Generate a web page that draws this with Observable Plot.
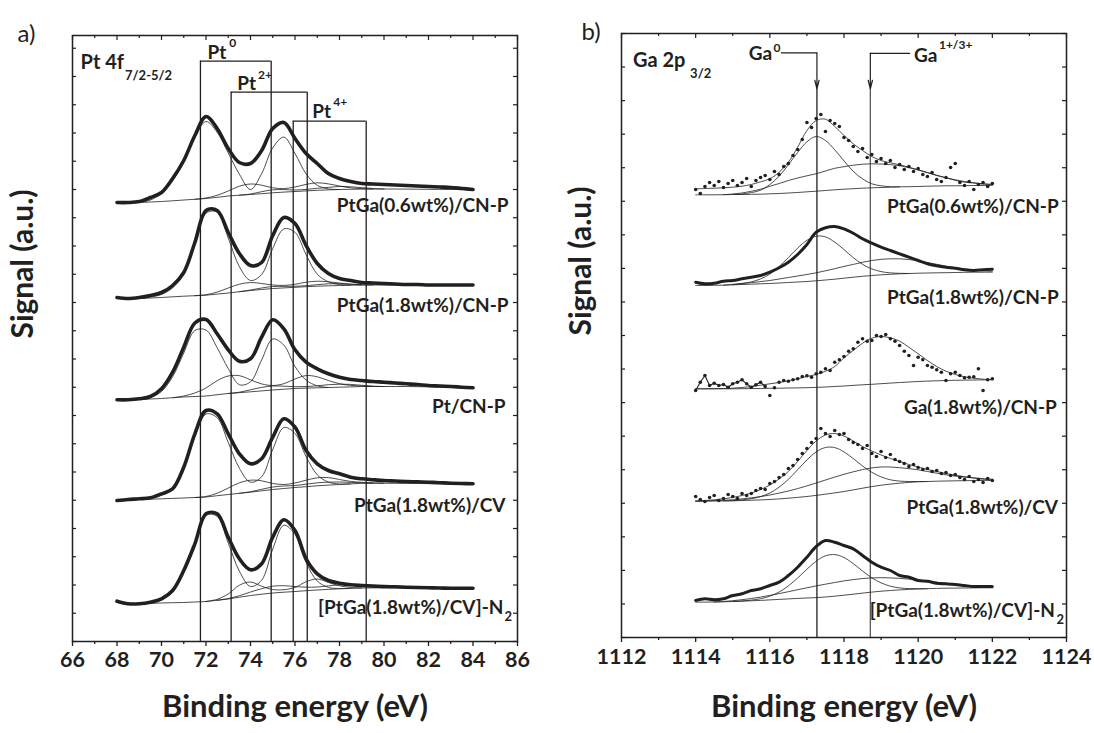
<!DOCTYPE html>
<html><head><meta charset="utf-8">
<script src="https://cdn.jsdelivr.net/npm/d3@7"></script>
<script src="https://cdn.jsdelivr.net/npm/@observablehq/plot@0.6"></script>
<style>
body{margin:0;background:#fff;}
#wrap{position:relative;width:1094px;height:733px;overflow:hidden;background:#fff;}
#pa,#pb{position:absolute;top:0;}
#pa{left:0;} #pb{left:547px;}
svg{overflow:visible;}
</style></head><body><div id="wrap"><div id="pa"></div><div id="pb"></div></div>
<script>
const _ = null;
// ---------------- Panel a : Pt 4f ----------------
const eVa = [68,68.5,69,69.5,70,70.5,71,71.5,72,72.5,73,73.5,74,74.5,75,75.5,76,76.5,77,77.5,78,78.5,79,79.5,80,80.5,81,81.5,82,82.5,83,83.5,84];
const namesA = ["PtGa(0.6wt%)/CN-P","PtGa(1.8wt%)/CN-P","Pt/CN-P","PtGa(1.8wt%)/CV","[PtGa(1.8wt%)/CV]-N"];
const sigA1 = [439,439,440,444,449,463,481,506,525,513,493,479,478,491,513,519,503,488,478,468,463,460,458,457.5,457,456.5,456,455.5,455,454.5,454,453,452];
const sigA2 = [344,343,344,346,349,356,369,399,431,431,409,388,376,379,406,424,418,396,378,368,363,361,359,358.5,358,357.5,357,357,356.5,356.5,356.5,356.5,356.5];
const sigA3 = [241.7,241.7,242.7,245,252.7,269.3,294.3,318.5,322,307.7,291.7,280.3,282.7,304.3,321.7,312.7,291.7,279.3,272.7,267.7,264.3,262,261,260,259.3,258.5,257.7,257,256,255.5,255,254.3,253.7];
const sigA4 = [141,142,142.7,143.7,147.7,152.7,174.3,207.7,231,227.7,207.7,187.7,177.7,182.7,204.3,222.7,214.3,191,177.7,171,167.7,164.3,162.7,161.8,161,160.5,160,159.7,159.3,158.8,158.3,158,157.7];
const sigA5 = [40.3,37.7,37.7,39.3,42.7,51,71,97.7,127.7,127.7,104.3,82.7,71.7,77.7,104.3,121.7,111,82.7,67.7,61,58.3,56.7,56,55.5,55,54.7,54.3,54,53.7,53.5,53.3,53.3,53.3];
const bgA1 = [439,439,439,439.5,440,440.7,441.5,442.2,443,444.2,445.5,446.3,447,447.8,448.7,449.4,450,450.6,451.2,451.6,452,452.2,452.4,452.5,452.5,452.5,452.4,452.3,452.2,452.1,452,452,452];
const bgA2 = [344,343,343,343.5,344,344.7,345.3,345.8,346.3,347.4,348.5,349.8,351,352,353,353.6,354.2,354.8,355.3,355.7,356,356.3,356.5,356.5,356.5,356.5,356.5,356.5,356.5,356.5,356.5,356.5,356.5];
const bgA3 = [241.7,241.8,242,242.5,243,243.8,244.5,245,245.5,246.8,248,248.8,249.7,250.6,251.5,252.3,253,253.4,253.7,254,254.3,254.6,255,255,255,255,255,254.8,254.7,254.5,254.3,254,253.7];
const bgA4 = [141,141.5,142,142.3,142.7,143.1,143.5,144,144.5,145.8,147,148.2,149.3,150.7,152,153,154,154.8,155.7,156.4,157,157.6,158.2,158.3,158.3,158.2,158.1,158,157.9,157.8,157.8,157.7,157.7];
const bgA5 = [40.3,38.5,37.8,38.1,38.5,38.8,39,39.5,40,41.2,42.5,44.3,46,47.3,48.5,49.3,50,50.8,51.5,52.1,52.7,53.1,53.5,53.6,53.7,53.7,53.6,53.5,53.4,53.3,53.3,53.3,53.3];
// fitted components (height above background)
const pt0A1 = [_,_,0,2,8,20,38,62,77,65,43,21,5,20,45,55,38,17,5,1,0,_,_,_,_,_,_,_,_,_,_,_,_];
const pt2A1 = [_,_,_,_,_,_,_,0,0.5,2,5,9,10.5,8.5,5,3.5,4.5,6.5,7.5,6,3.5,1.5,0.5,0,_,_,_,_,_,_,_,_,_];
const pt4A1 = [_,_,_,_,_,_,_,_,_,_,_,0,0.5,2,3,2.5,1.5,1.5,2,2.5,3,2.5,1.5,0.5,0,_,_,_,_,_,_,_,_];
const pt0A2 = [_,_,0,1,3,9,22,51,82,82,55,25,10,15,40,59,55,32,12,4,1,0,_,_,_,_,_,_,_,_,_,_,_];
const pt2A2 = [_,_,_,_,_,_,_,0,0.5,2,5,7.5,8,6,3.5,2.5,3,4.5,5,4,2.5,1,0,_,_,_,_,_,_,_,_,_,_];
const pt4A2 = [_,_,_,_,_,_,_,_,_,_,_,0,0.5,1.5,2,1.5,1,1,1.5,2,1.8,1,0.3,0,_,_,_,_,_,_,_,_,_];
const pt0A3 = [_,_,0,1.5,7,21,44,66,66,47,25,8,10,31,51,44,22,8,2,0,_,_,_,_,_,_,_,_,_,_,_,_,_];
const pt2A3 = [_,_,_,_,_,0,1,3.5,8,14,17.5,17,12,7,4.5,5.5,9.5,12.5,11,7,3.5,1.5,0.5,0,_,_,_,_,_,_,_,_,_];
const pt4A3 = [_,_,_,_,_,_,_,_,_,_,0,0.5,2,3.5,4,3,1.8,1.5,2,2.8,3,2.5,1.2,0.4,0,_,_,_,_,_,_,_,_];
const pt0A4 = [_,_,0,1,3.5,9,29,61,83,78,52,25,10,14,40,61,54,30,11,3,0.5,0,_,_,_,_,_,_,_,_,_,_,_];
const pt2A4 = [_,_,_,_,_,_,_,0,0.5,2.5,6.5,10.5,12,10,6,4,4.5,6.5,8,7.5,5,2.5,1,0.3,0,_,_,_,_,_,_,_,_];
const pt4A4 = [_,_,_,_,_,_,_,_,_,_,_,0,0.5,1.5,2.5,2.5,2,2.5,3,3,2.5,1.5,0.5,0,_,_,_,_,_,_,_,_,_];
const pt0A5 = [_,_,0,1,3,11,30,56,86,84,56,26,9,14,44,67,57,28,9,2,0.3,0,_,_,_,_,_,_,_,_,_,_,_];
const pt2A5 = [_,_,_,_,_,_,_,_,0,1,5,12,13.5,8,3.5,2.5,4,9,11,7,3,1,0,_,_,_,_,_,_,_,_,_,_];
const pt4A5 = [_,_,_,_,_,_,_,_,_,0,0.5,1.5,3.5,5.5,6.8,6.5,5,3.5,3,3.5,4,3.5,2,0.8,0,_,_,_,_,_,_,_,_];
// Pt0 / Pt2+ / Pt4+ doublet guides (eV)
const bracketLo = [71.75, 73.13, 75.92];
const bracketHi = [74.93, 76.55, 79.2];
const bracketTop = [580.3, 549.3, 520.3];
const majorsA = [66,68,70,72,74,76,78,80,82,84,86];
const minorsA = [67,69,71,73,75,77,79,81,83,85];

// ---------------- Panel b : Ga 2p3/2 ----------------
const eVb = [1114,1114.25,1114.5,1114.75,1115,1115.25,1115.5,1115.75,1116,1116.25,1116.5,1116.75,1117,1117.25,1117.5,1117.75,1118,1118.25,1118.5,1118.75,1119,1119.25,1119.5,1119.75,1120,1120.25,1120.5,1120.75,1121,1121.25,1121.5,1121.75,1122];
const eVbDots = [1114,1114.125,1114.25,1114.375,1114.5,1114.625,1114.75,1114.875,1115,1115.125,1115.25,1115.375,1115.5,1115.625,1115.75,1115.875,1116,1116.125,1116.25,1116.375,1116.5,1116.625,1116.75,1116.875,1117,1117.125,1117.25,1117.375,1117.5,1117.625,1117.75,1117.875,1118,1118.125,1118.25,1118.375,1118.5,1118.625,1118.75,1118.875,1119,1119.125,1119.25,1119.375,1119.5,1119.625,1119.75,1119.875,1120,1120.125,1120.25,1120.375,1120.5,1120.625,1120.75,1120.875,1121,1121.125,1121.25,1121.375,1121.5,1121.625,1121.75,1121.875,1122];
const namesB = ["PtGa(0.6wt%)/CN-P","PtGa(1.8wt%)/CN-P","Ga(1.8wt%)/CN-P","PtGa(1.8wt%)/CV","[PtGa(1.8wt%)/CV]-N"];
const dotsB1 = [448,444,451,455,452,456,450,454,457,452,455,459,451,457,460,462,458,466,463,471,474,482,488,498,515,510,519,523,506,517,514,511,500,497,491,486,489,480,483,476,479,474,477,470,473,468,471,466,469,463,461,465,458,456,460,470,474,455,452,456,448,453,455,451,454];
const envB1 = [448.7,449,449.3,449.7,450.3,451.3,453,455.7,458.7,465.3,475.3,490.3,507,517,518.3,511,502,493.7,487,481,477,474.7,472.7,470.3,467.7,465,462.3,459.7,457.7,456,454.7,453.7,453];
const bgB1 = [442.7,442.7,442.7,442.8,443,443,443.2,443.3,443.7,444,444.5,445,445.7,446.3,447,447.7,448.3,448.8,449.3,449.7,450,450.3,450.7,450.8,451,451.3,451.5,451.7,451.7,451.8,452,452,452];
const ga0B1 = [_,_,_,_,0,0.5,1.7,4,9.3,17.3,28.3,40,50,54.7,50,40,28.3,17.3,9.3,4,1.7,0.5,0,_,_,_,_,_,_,_,_,_,_];
const ga1B1 = [_,_,_,0,0.5,1.5,3,5,7.5,10,12.5,14.5,16,17.5,19.5,21.5,22.5,23.5,24,24,23.5,22.5,21,19,16.5,13.5,10.5,8,5.5,3.5,2.5,1.5,1];
const sigB2 = [355.3,353.7,354.3,356.3,357,358.7,360.3,362,365.3,369.7,375.3,383,393,405.3,409.7,411,408.7,404.3,398.7,394.3,390.3,387,383.7,380.3,377,373.7,371.7,370.3,369.3,367.7,367,367.7,368.3];
const bgB2 = [352,352,352.2,352.3,352.7,353,353.3,353.7,354,354.5,355,355.5,356,356.7,357.5,358.3,359.3,360.3,361.2,362,362.7,363.2,363.7,364,364.3,364.5,364.7,364.8,365,365.2,365.3,365.3,365.3];
const ga0B2 = [_,_,_,_,0,1,2.3,4.9,9.4,16.4,24.9,33.9,41.2,44.6,43.1,37.1,28.6,19.6,12,6.6,3.2,1.4,0.5,0,_,_,_,_,_,_,_,_,_];
const ga1B2 = [_,_,_,0,0.5,1,1.5,2.2,3,4,5,6,7,8,9.2,10.5,11.8,12.8,14,15,15.5,15.5,15,14,12.5,10.5,8.5,6.5,4.8,3.3,2.2,1.4,0.9];
const dotsB3 = [247,255.3,262,252,254.3,252,253,250.3,253.7,255.3,257.7,253.7,250.3,252.7,255.3,251,242,249.7,255.3,257,256.3,257.7,258.7,261,261.7,260.3,263.7,265.3,268.7,267,275.3,277.7,281,286.3,288.7,295.3,298.7,296.3,297,302,301,303,298.7,296.3,292,286.3,282,272,280.3,277.7,272,270.3,267.7,265.3,257,263.7,265.3,262,259.7,260.3,260.7,268.7,247,257.7,258.7];
const envB3 = [248.7,248.7,248.8,249,249.3,250,251,252.3,253.7,255,256.7,258.7,261,263,266.3,271,279.7,287,294.3,299.3,301,299.7,296.3,290.3,283.7,277,271,266.3,263,260.7,259.3,258.3,258];
const bgB3 = [248.7,248.7,248.7,248.7,248.7,248.8,248.9,249,249.2,249.3,249.5,249.6,249.8,250.1,250.5,251,251.5,252.1,252.7,253.2,253.8,254.4,255,255.5,256,256.4,256.7,257,257.2,257.4,257.5,257.6,257.7];
const dotsB4 = [141,138,136,140,142,137,139,143,141,139,144,142,144,147,149,148,154,156,160,163,169,172,178,184,189,195,199,209,204,201,207,203,204,198,195,193,189,192,184,181,186,180,183,178,176,174,171,173,170,168,169,166,167,164,165,162,163,160,158,161,156,158,155,159,157];
const envB4 = [136.5,137,137.7,138.7,140,142,144.5,148,152.5,158.5,166,176,187,196.5,202.5,204,201.5,196.5,191,186.5,182.5,179,176,173,170.5,168,166,164,162.3,160.8,159.5,158.3,157.5];
const bgB4 = [136.3,136.4,136.5,136.6,136.7,137,137.3,137.6,138,138.6,139.3,140.1,141,142.1,143.3,144.6,146,147.6,149.3,150.9,152.3,153.4,154.3,155.1,155.7,156,156.3,156.5,156.7,156.8,156.9,157,157];
const ga0B4 = [_,_,_,0,0.2,0.6,1.5,3.3,6.5,11.7,18.9,27.7,36.5,43.5,46.7,45.3,39.6,31.3,22.3,14.3,8.3,4.3,2.1,0.9,0.3,0,_,_,_,_,_,_,_];
const ga1B4 = [0,0.2,0.4,0.7,1,1.6,2.4,3.3,4.5,5.8,7.2,8.8,10.6,12.4,14.2,15.8,17.2,18.1,18.6,18.7,18.2,17.1,15.5,13.8,12,10,8,6.2,4.7,3.6,2.7,1.9,1.3];
const sigB5 = [37,38.7,37.7,38.7,42,43.7,47,48.7,52,55.3,62,70.3,80.3,91,97,95.3,92,88.7,82,75.3,70.3,67,62,60.3,57,56.3,54.3,53.7,53,52,51,51,51];
const bgB5 = [35.3,35.4,35.5,35.7,36,36.3,36.7,37.1,37.6,38.1,38.6,39.1,39.5,39.9,40.5,41.3,42.3,43.3,44.4,45.4,46.3,47,47.6,48.1,48.5,48.8,49.1,49.3,49.4,49.5,49.6,49.7,49.7];
const ga0B5 = [_,_,_,_,0,0.25,0.7,1.7,3.7,7.4,13,20.4,28.8,36.4,41.2,41.6,37.7,30.5,22.1,14.3,8.3,4.3,2,0.8,0.3,0,_,_,_,_,_,_,_];
const ga1B5 = [_,_,0,0.3,0.8,1.5,2.3,3.3,4.5,5.8,7.2,8.7,10.2,11.7,12.8,13.7,14.3,14.6,14.6,14.2,13.5,12.6,11.5,10.3,9,7.6,6.2,4.8,3.5,2.3,1.3,0.6,0.2];
const gaLines = [1117.27, 1118.71];
const majorsB = [1112,1114,1116,1118,1120,1122,1124];
const minorsB = [1113,1115,1117,1119,1121,1123];

// ---------------- helpers ----------------
const ink = "#231f20";
const rows = (xs, ys) => xs.map((x, i) => ({x, y: ys[i]})).filter(d => d.y != null);
const comp = (xs, bg, h) => xs.map((x, i) => h[i] == null ? null : {x, y: bg[i] + h[i]}).filter(d => d);
const thin = (data) => Plot.line(data, {x: "x", y: "y", stroke: ink, strokeWidth: 0.8, curve: "catmull-rom"});
const txt = (t, x, y, o = {}) => Plot.text([t], {x, y, text: d => d, fill: ink, fontWeight: "bold", fontSize: 19, ...o});
const FONT = "Lato, 'Open Sans', 'DejaVu Sans', sans-serif";

function frameMarks(W, Hh, majors, minors, yt, labelDy) {
  return [
    Plot.frame({stroke: ink, strokeWidth: 1.5}),
    Plot.tickY(yt, {y: d => d, insetRight: W - 4, stroke: ink, strokeWidth: 1.2}),
    Plot.tickY(yt, {y: d => d, insetLeft: W - 4, stroke: ink, strokeWidth: 1.2}),
    Plot.tickX(majors, {x: d => d, insetBottom: Hh - 5, stroke: ink, strokeWidth: 1.2}),
    Plot.tickX(minors, {x: d => d, insetBottom: Hh - 3, stroke: ink, strokeWidth: 1.2}),
    Plot.tickX(minors, {x: d => d, insetTop: Hh, insetBottom: -3, stroke: ink, strokeWidth: 1.3}),
    Plot.tickX(majors, {x: d => d, insetTop: Hh, insetBottom: -5, stroke: ink, strokeWidth: 1.3}),
    Plot.text(majors, {x: d => d, frameAnchor: "bottom", dy: labelDy, text: d => String(d),
      fontSize: 21.5, fontWeight: "bold", fill: ink})
  ];
}

// ---------------- Panel a plot ----------------
const WA = 445, HA = 606;
const sigsA = [sigA1, sigA2, sigA3, sigA4, sigA5];
const bgsA = [bgA1, bgA2, bgA3, bgA4, bgA5];
const compsA = [[pt0A1, pt2A1, pt4A1], [pt0A2, pt2A2, pt4A2], [pt0A3, pt2A3, pt4A3], [pt0A4, pt2A4, pt4A4], [pt0A5, pt2A5, pt4A5]];
const guideA = bracketLo.concat(bracketHi).map((x, i) => ({x, top: bracketTop[i % 3]}));
const bracketsA = bracketLo.map((a, i) => ({a, b: bracketHi[i], top: bracketTop[i]}));

const marksA = [
  Plot.ruleX(guideA, {x: "x", y1: 0, y2: "top", stroke: ink, strokeWidth: 1.3}),
  Plot.ruleY(bracketsA, {y: "top", x1: "a", x2: "b", stroke: ink, strokeWidth: 1.3})
];
sigsA.forEach((s, k) => {
  marksA.push(thin(rows(eVa, bgsA[k])));
  compsA[k].forEach(h => marksA.push(thin(comp(eVa, bgsA[k], h))));
  marksA.push(Plot.line(rows(eVa, s), {x: "x", y: "y", stroke: ink, strokeWidth: 3.6, curve: "catmull-rom"}));
});
const labA = [[85.6, 435.1], [85.6, 335.1], [85.46, 234.1], [85.46, 135.1], [85.37, 33.1]];
namesA.forEach((n, k) => marksA.push(txt(n, labA[k][0], labA[k][1], {textAnchor: "end"})));
marksA.push(
  txt("2", 85.42, 24.2, {textAnchor: "start", fontSize: 13}),
  txt("Pt 4f", 66.36, 579.4, {textAnchor: "start", fontSize: 20}),
  txt("7/2-5/2", 68.36, 565.2, {textAnchor: "start", fontSize: 13}),
  txt("Pt", 72.07, 588.8, {textAnchor: "start"}),
  txt("0", 73.04, 598, {textAnchor: "start", fontSize: 12}),
  txt("Pt", 73.40, 557.1, {textAnchor: "start"}),
  txt("2+", 74.34, 566, {textAnchor: "start", fontSize: 12}),
  txt("Pt", 76.77, 529.8, {textAnchor: "start"}),
  txt("4+", 77.72, 539.3, {textAnchor: "start", fontSize: 12}),
  ...frameMarks(WA, HA, majorsA, minorsA, d3.range(0, 606, 28.25), 25),
  Plot.text(["a)"], {frameAnchor: "top-left", dx: -55, dy: -11, text: d => d, textAnchor: "start", fontSize: 24, fontWeight: "normal", fill: ink}),
  Plot.text(["Signal (a.u.)"], {frameAnchor: "left", dx: -49, rotate: -90, text: d => d, fontSize: 30, fontWeight: "bold", fill: ink}),
  Plot.text(["Binding energy (eV)"], {frameAnchor: "bottom", dy: 75, text: d => d, fontSize: 31, fontWeight: "bold", fill: ink})
);

const plotA = Plot.plot({
  width: 540, height: 733, marginLeft: 72, marginRight: 23, marginTop: 35, marginBottom: 92,
  x: {domain: [66, 86], axis: null}, y: {domain: [0, 606], axis: null},
  style: {fontFamily: FONT, fontWeight: "bold", color: ink, background: "transparent", overflow: "visible"},
  marks: marksA
});
document.getElementById("pa").append(plotA);

// ---------------- Panel b plot ----------------
const WB = 445, HB = 604;
const marksB = [
  Plot.ruleX(gaLines, {x: d => d, y1: 0, y2: 548.7, stroke: (d, i) => i ? "#5a5a5a" : ink, strokeWidth: 1.3}),
  Plot.line([{x: 1116.31, y: 584.7}, {x: 1117.27, y: 584.7}], {x: "x", y: "y", stroke: ink, strokeWidth: 1.2}),
  Plot.line([{x: 1119.77, y: 584.2}, {x: 1118.71, y: 584.2}], {x: "x", y: "y", stroke: ink, strokeWidth: 1.2}),
  Plot.arrow(gaLines, {x1: d => d, x2: d => d, y1: 584.5, y2: 548.7, stroke: ink, strokeWidth: 1.2, headLength: 11, headAngle: 28})
];
// spectrum 1
marksB.push(thin(rows(eVb, bgB1)), thin(comp(eVb, bgB1, ga0B1)), thin(comp(eVb, bgB1, ga1B1)), thin(rows(eVb, envB1)),
  Plot.dot(rows(eVbDots, dotsB1), {x: "x", y: "y", r: 1.8, fill: ink, stroke: null}));
// spectrum 2
marksB.push(thin(rows(eVb, bgB2)), thin(comp(eVb, bgB2, ga0B2)), thin(comp(eVb, bgB2, ga1B2)),
  Plot.line(rows(eVb, sigB2), {x: "x", y: "y", stroke: ink, strokeWidth: 3, curve: "catmull-rom"}));
// spectrum 3
marksB.push(thin(rows(eVb, bgB3)), thin(rows(eVb, envB3)),
  Plot.line(rows(eVbDots, dotsB3).filter(d => d.x <= 1115.9), {x: "x", y: "y", stroke: ink, strokeWidth: 1.1}),
  Plot.dot(rows(eVbDots, dotsB3), {x: "x", y: "y", r: 1.8, fill: ink, stroke: null}));
// spectrum 4
marksB.push(thin(rows(eVb, bgB4)), thin(comp(eVb, bgB4, ga0B4)), thin(comp(eVb, bgB4, ga1B4)), thin(rows(eVb, envB4)),
  Plot.dot(rows(eVbDots, dotsB4), {x: "x", y: "y", r: 1.8, fill: ink, stroke: null}));
// spectrum 5
marksB.push(thin(rows(eVb, bgB5)), thin(comp(eVb, bgB5, ga0B5)), thin(comp(eVb, bgB5, ga1B5)),
  Plot.line(rows(eVb, sigB5), {x: "x", y: "y", stroke: ink, strokeWidth: 3, curve: "catmull-rom"}));

const labB = [[1123.79, 430.4], [1123.79, 339.1], [1123.74, 229.1], [1123.77, 129.1], [1123.69, 26.4]];
namesB.forEach((n, k) => marksB.push(txt(n, labB[k][0], labB[k][1], {textAnchor: "end"})));
marksB.push(
  txt("2", 1123.73, 17.2, {textAnchor: "start", fontSize: 13}),
  txt("Ga 2p", 1112.31, 576.7, {textAnchor: "start", fontSize: 20}),
  txt("3/2", 1113.85, 563.9, {textAnchor: "start", fontSize: 13}),
  txt("Ga", 1115.43, 583.1, {textAnchor: "start"}),
  txt("0", 1116.10, 589, {textAnchor: "start", fontSize: 12}),
  txt("Ga", 1119.89, 582, {textAnchor: "start"}),
  txt("1+/3+", 1120.56, 592, {textAnchor: "start", fontSize: 12}),
  ...frameMarks(WB, HB, majorsB, minorsB, d3.range(0, 605, 604 / 18), 26),
  Plot.text(["b)"], {frameAnchor: "top-left", dx: -40, dy: -11, text: d => d, textAnchor: "start", fontSize: 24, fontWeight: "normal", fill: ink}),
  Plot.text(["Signal (a.u.)"], {frameAnchor: "left", dx: -40, rotate: -90, text: d => d, fontSize: 30, fontWeight: "bold", fill: ink}),
  Plot.text(["Binding energy (eV)"], {frameAnchor: "bottom", dy: 79, text: d => d, fontSize: 31, fontWeight: "bold", fill: ink})
);

const plotB = Plot.plot({
  width: 547, height: 733, marginLeft: 74, marginRight: 28, marginTop: 33, marginBottom: 96,
  x: {domain: [1112, 1124], axis: null}, y: {domain: [0, 604], axis: null},
  style: {fontFamily: FONT, fontWeight: "bold", color: ink, background: "transparent", overflow: "visible"},
  marks: marksB
});
document.getElementById("pb").append(plotB);
</script>
</body></html>
